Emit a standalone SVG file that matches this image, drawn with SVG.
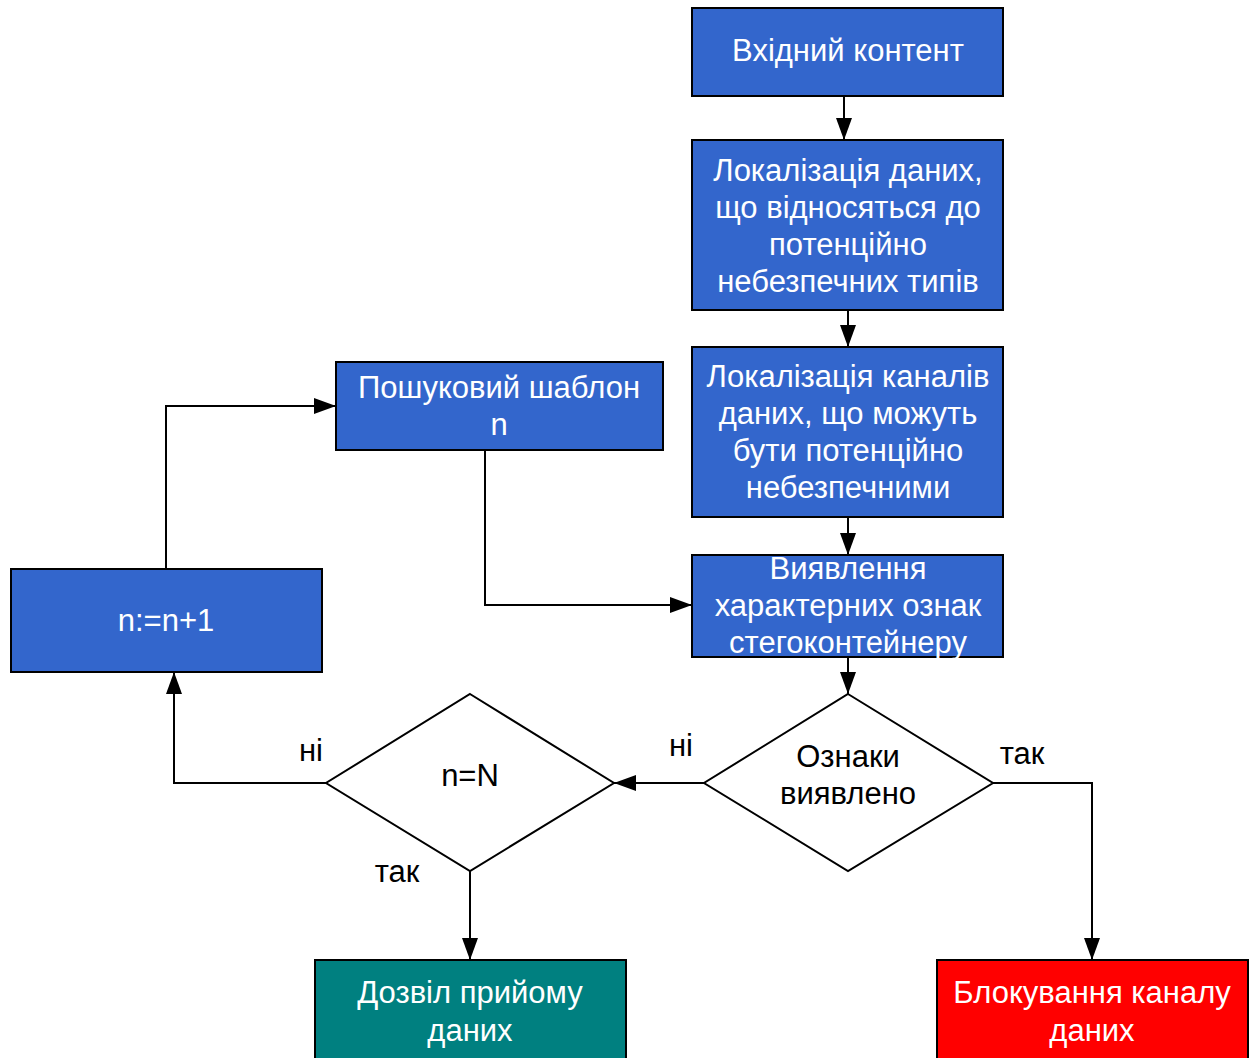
<svg xmlns="http://www.w3.org/2000/svg" width="1254" height="1058" viewBox="0 0 1254 1058">
<style>
.box{stroke:#000;stroke-width:2}
.blue{fill:#3366CC}
.t{font-family:"Liberation Sans",Arial,sans-serif;font-size:31px;fill:#fff;text-anchor:middle}
.k{font-family:"Liberation Sans",Arial,sans-serif;font-size:31px;fill:#000;text-anchor:middle}
.c{fill:none;stroke:#000;stroke-width:2}
.d{fill:#fff;stroke:#000;stroke-width:2}
</style>
<defs>
<marker id="ah" markerWidth="22" markerHeight="16" refX="22" refY="8" orient="auto" markerUnits="userSpaceOnUse">
<path d="M0,0 L22,8 L0,16 Z" fill="#000"/>
</marker>
</defs>
<rect width="1254" height="1058" fill="#fff"/>
<g id="connectors">
<path class="c" d="M844,96 V140" marker-end="url(#ah)"/>
<path class="c" d="M848,310 V347" marker-end="url(#ah)"/>
<path class="c" d="M848,517 V555" marker-end="url(#ah)"/>
<path class="c" d="M848,657 V694" marker-end="url(#ah)"/>
<path class="c" d="M704,783 H614" marker-end="url(#ah)"/>
<path class="c" d="M326,783 H174 V672" marker-end="url(#ah)"/>
<path class="c" d="M166,569 V406 H336" marker-end="url(#ah)"/>
<path class="c" d="M485,450 V605 H692" marker-end="url(#ah)"/>
<path class="c" d="M470,871 V960" marker-end="url(#ah)"/>
<path class="c" d="M993,783 H1092 V960" marker-end="url(#ah)"/>
<text class="k" x="681" y="756">ні</text>
<text class="k" x="311" y="761">ні</text>
<text class="k" x="1022" y="764">так</text>
<text class="k" x="397" y="882">так</text>
</g>
<g id="n1"><rect class="box blue" x="692" y="8" width="311" height="88"/>
<text class="t" x="848" y="61">Вхідний контент</text></g>
<g id="n2"><rect class="box blue" x="692" y="140" width="311" height="170"/>
<text class="t" x="848" y="181">Локалізація даних,</text>
<text class="t" x="848" y="218">що відносяться до</text>
<text class="t" x="848" y="255">потенційно</text>
<text class="t" x="848" y="292">небезпечних типів</text></g>
<g id="n3"><rect class="box blue" x="692" y="347" width="311" height="170"/>
<text class="t" x="848" y="387">Локалізація каналів</text>
<text class="t" x="848" y="424">даних, що можуть</text>
<text class="t" x="848" y="461">бути потенційно</text>
<text class="t" x="848" y="498">небезпечними</text></g>
<g id="n4"><rect class="box blue" x="692" y="555" width="311" height="102"/>
<text class="t" x="848" y="579">Виявлення</text>
<text class="t" x="848" y="616">характерних ознак</text>
<text class="t" x="848" y="653">стегоконтейнеру</text></g>
<g id="d1"><path class="d" d="M848,694 L993,783 L848,871 L704,783 Z"/>
<text class="k" x="848" y="767">Ознаки</text>
<text class="k" x="848" y="804">виявлено</text></g>
<g id="d2"><path class="d" d="M470,694 L614,783 L470,871 L326,783 Z"/>
<text class="k" x="470" y="786">n=N</text></g>
<g id="n5"><rect class="box blue" x="11" y="569" width="311" height="103"/>
<text class="t" x="166" y="631">n:=n+1</text></g>
<g id="n6"><rect class="box blue" x="336" y="362" width="327" height="88"/>
<text class="t" x="499" y="398">Пошуковий шаблон</text>
<text class="t" x="499" y="435">n</text></g>
<g id="n7"><rect class="box" fill="#008080" x="315" y="960" width="311" height="110"/>
<text class="t" x="470" y="1003">Дозвіл прийому</text>
<text class="t" x="470" y="1041">даних</text></g>
<g id="n8"><rect class="box" fill="#FF0000" x="937" y="960" width="311" height="110"/>
<text class="t" x="1092" y="1003">Блокування каналу</text>
<text class="t" x="1092" y="1041">даних</text></g>
</svg>
